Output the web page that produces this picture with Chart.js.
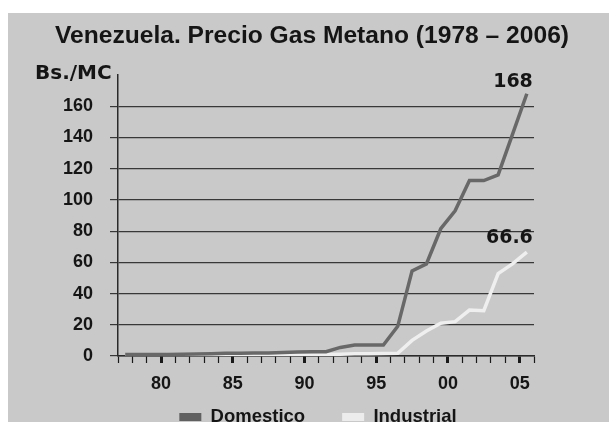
<!DOCTYPE html>
<html><head><meta charset="utf-8">
<script src="https://cdn.jsdelivr.net/npm/chart.js@4.4.0/dist/chart.umd.min.js"></script>
<style>
html,body{margin:0;padding:0;background:#fff;overflow:hidden;width:609px;height:422px;}
#wrap{position:absolute;left:8px;top:13px;width:601px;height:440px;background:#c9c9c9;}
canvas{display:block;}
</style></head><body>
<div id="wrap"><canvas id="c" width="601" height="440"></canvas></div>
<script>
const titleText = 'Venezuela. Precio Gas Metano (1978 \u2013 2006)';
const unitLabel = 'Bs./MC';
const seriesNames = ['Domestico', 'Industrial'];
const years = [1978,1979,1980,1981,1982,1983,1984,1985,1986,1987,1988,1989,1990,1991,1992,1993,1994,1995,1996,1997,1998,1999,2000,2001,2002,2003,2004,2005,2006];
const domestico = [1.0,1.0,1.0,1.0,1.2,1.3,1.5,1.7,1.8,1.9,2.0,2.2,2.5,2.7,2.8,5.5,7.0,7.0,7.0,19,54.5,59,81.5,93,112.4,112.4,116,142,168];
const industrial = [0.5,0.5,0.5,0.5,0.5,0.5,0.5,0.5,0.5,0.5,0.5,0.5,0.6,0.7,1.0,1.2,1.5,1.5,1.6,1.7,10,16,21,22,29.4,29,52.8,59,66.6];
const endLabels = ['168', '66.6'];
const yTicks = [0,20,40,60,80,100,120,140,160];

const FONT = '"Liberation Sans", Arial, sans-serif';
const TXT = '#151515';

const annot = {
  id: 'annot',
  afterLayout(chart) {
    if (chart.legend) { chart.legend.left -= 8; chart.legend.right -= 8; }
  },
  afterDraw(chart) {
    const ctx = chart.ctx;
    ctx.save();
    ctx.fillStyle = TXT;
    ctx.font = 'bold 24.6px ' + FONT;
    ctx.textAlign = 'center';
    ctx.textBaseline = 'alphabetic';
    ctx.fillText(titleText, 304, 30);
    ctx.font = 'bold 20px "DejaVu Sans", sans-serif';
    ctx.textAlign = 'left';
    ctx.fillText(unitLabel, 27, 66);
    ctx.font = 'bold 19px "DejaVu Sans", sans-serif';
    ctx.textAlign = 'right';
    const offs = [7, 8.7];
    [0, 1].forEach(i => {
      const m = chart.getDatasetMeta(i);
      const p = m.data[m.data.length - 1];
      ctx.fillText(endLabels[i], p.x + 6, p.y - offs[i]);
    });
    ctx.restore();
  }
};

const toPts = arr => arr.map((v, i) => ({x: years[i] - 0.5, y: v}));

new Chart(document.getElementById('c'), {
  type: 'line',
  data: {
    datasets: [
      {label: seriesNames[0], data: toPts(domestico), borderColor: '#686868', backgroundColor: '#606060', borderWidth: 3.5, pointRadius: 0, tension: 0},
      {label: seriesNames[1], data: toPts(industrial), borderColor: '#efefef', backgroundColor: '#ececec', borderWidth: 3.5, pointRadius: 0, tension: 0}
    ]
  },
  options: {
    responsive: false,
    animation: false,
    devicePixelRatio: 1,
    layout: {padding: {top: 62, right: 75, bottom: 16.75, left: 0}},
    plugins: {
      legend: {
        position: 'bottom', fullSize: false,
        labels: {boxWidth: 22, boxHeight: 8, padding: 37, color: TXT, font: {family: FONT, size: 18.5, weight: 'bold'},
          generateLabels(chart) {
            return Chart.defaults.plugins.legend.labels.generateLabels(chart).map(l => Object.assign(l, {lineWidth: 0}));
          }}
      },
      title: {display: false},
      tooltip: {enabled: false}
    },
    scales: {
      x: {
        type: 'linear', min: 1977, max: 2006,
        afterFit(s) {
          s.height = 14.75;
          s._computeLabelArea = function () { return undefined; };
        },
        ticks: {stepSize: 1, maxTicksLimit: 100, autoSkip: false, maxRotation: 0, padding: 10, color: TXT,
          font: {family: FONT, size: 18, weight: 'bold'},
          callback: v => (v % 5 === 0 ? String(v).slice(2) : '')},
        grid: {drawOnChartArea: false, drawTicks: true, tickLength: 7,
          tickWidth: c => (c.tick && c.tick.value % 5 === 0 ? 3 : 1.2), tickColor: '#1a1a1a'},
        border: {display: true, color: '#2a2a2a', width: 1.5}
      },
      y: {
        min: 0, max: 180,
        afterFit(s) { s.width = 110; },
        afterBuildTicks(s) { s.ticks = yTicks.concat([180]).map(v => ({value: v})); },
        ticks: {padding: 17, color: TXT, font: {family: FONT, size: 18, weight: 'bold'},
          callback: v => (yTicks.includes(v) ? String(v) : '')},
        grid: {color: c => (c.tick && yTicks.includes(c.tick.value) ? '#383838' : 'rgba(0,0,0,0)'),
          lineWidth: 1.2, tickLength: 8, drawTicks: true},
        border: {display: true, color: '#2a2a2a', width: 1.5}
      }
    }
  },
  plugins: [annot]
});
</script>
</body></html>
